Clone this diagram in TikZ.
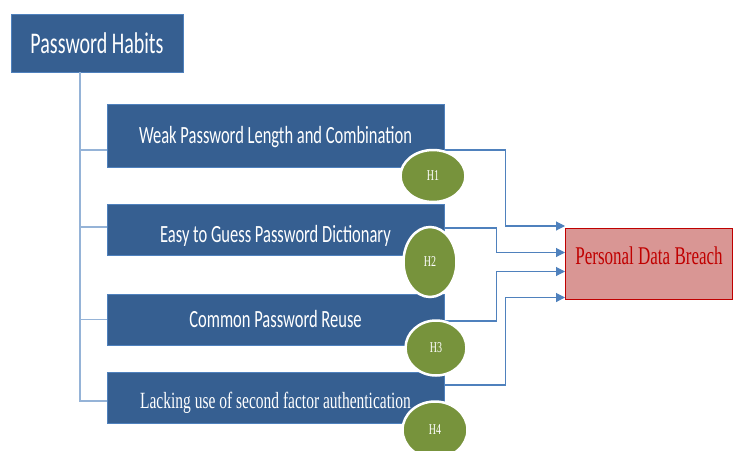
\documentclass[tikz,border=0pt]{standalone}
\usepackage{fontspec}
\usepackage{graphicx}
\setmainfont{Carlito}
\newfontfamily\serifface{Liberation Serif}
\usetikzlibrary{arrows.meta,positioning,shapes.geometric}
\definecolor{habblue}{RGB}{54,95,145}
\definecolor{habedge}{RGB}{79,129,189}
\definecolor{habline}{RGB}{149,179,215}
\definecolor{hypgreen}{RGB}{119,147,60}
\definecolor{breachfill}{RGB}{217,150,148}
\definecolor{breachred}{RGB}{192,0,0}
\newcommand{\stretchtxt}[1]{\scalebox{1}[1.5]{#1}}

\begin{document}
\begin{tikzpicture}[x=1pt,y=-1pt,
      hab/.style={draw=habedge,fill=habblue,text=white,inner sep=0pt,
        minimum width=337pt,minimum height=51pt,
        font=\fontsize{16.5}{18}\selectfont},
      hyp/.style={ellipse,draw=white,line width=2.5pt,fill=hypgreen,
        text=white,inner sep=0pt,font=\serifface\fontsize{10}{12}\selectfont},
      tree/.style={draw=habline,line width=1.6pt},
      a/.style={-{Triangle[length=9pt,width=9pt]},draw=habedge,line width=1.1pt}]
      \useasboundingbox (0,0) rectangle (733,450);
      \node[hab,minimum width=172pt,minimum height=58pt,
        font=\fontsize{20}{24}\selectfont] (habits) at (97,43)
        {\stretchtxt{Password Habits}};
      \node[hab,minimum height=63pt,text height=22pt,text depth=6pt] (weak)
        at (275.5,135.5) {\stretchtxt{Weak Password Length and Combination}};
      \node[hab,text height=30pt,text depth=4pt] (guess) at (275.5,229.5)
        {\stretchtxt{Easy to Guess Password Dictionary}};
      \node[hab,text height=22pt,text depth=6pt] (reuse) at (275.5,319.5)
        {\stretchtxt{Common Password Reuse}};
      \node[hab,text height=26pt,text depth=4pt,
        font=\serifface\fontsize{15.5}{18}\selectfont] (lacking)
        at (275.5,397.5)
        {\stretchtxt{Lacking use of second factor authentication}};
      \node[draw=breachred,fill=breachfill,text=breachred,line width=1pt,
        minimum width=167pt,minimum height=71pt,text height=18pt,
        text depth=16pt,font=\serifface\fontsize{17}{20}\selectfont]
        (breach) at (649,263.5) {\stretchtxt{Personal Data Breach}};
      % tree from the habits box
      \coordinate (trunk) at ([xshift=69pt]habits.south west);
      \draw[tree] (trunk) |- ([yshift=-3.5pt]lacking.west);
      \foreach \nd/\dy in {weak/-14.5,guess/2.5,reuse/0}
        \draw[tree] ([yshift=\dy pt]\nd.west) -- ++(-27,0);
      % hypotheses
      \draw[a] ([yshift=-14.5pt]weak.east) -- ++(61,0)
        |- ([yshift=37.5pt]breach.west);
      \draw[a] ([yshift=1.5pt]guess.east) -- ++(52,0)
        |- ([yshift=11pt]breach.west);
      \draw[a] ([yshift=-1.5pt]reuse.east) -- ++(52,0)
        |- ([yshift=-8pt]breach.west);
      \draw[a] ([yshift=12.5pt]lacking.east) -- ++(61,0)
        |- ([yshift=-34pt]breach.west);
      \node[hyp,minimum width=65pt,minimum height=52pt] (h1) at (433,176)
        {\stretchtxt{H1}};
      \node[hyp,minimum width=53pt,minimum height=70pt] (h2) at (430,262)
        {\stretchtxt{H2}};
      \node[hyp,minimum width=61pt,minimum height=55pt] (h3) at (436,348)
        {\stretchtxt{H3}};
      \node[hyp,minimum width=65pt,minimum height=57pt] (h4) at (435,430)
        {\stretchtxt{H4}};
    \end{tikzpicture}
\end{document}
